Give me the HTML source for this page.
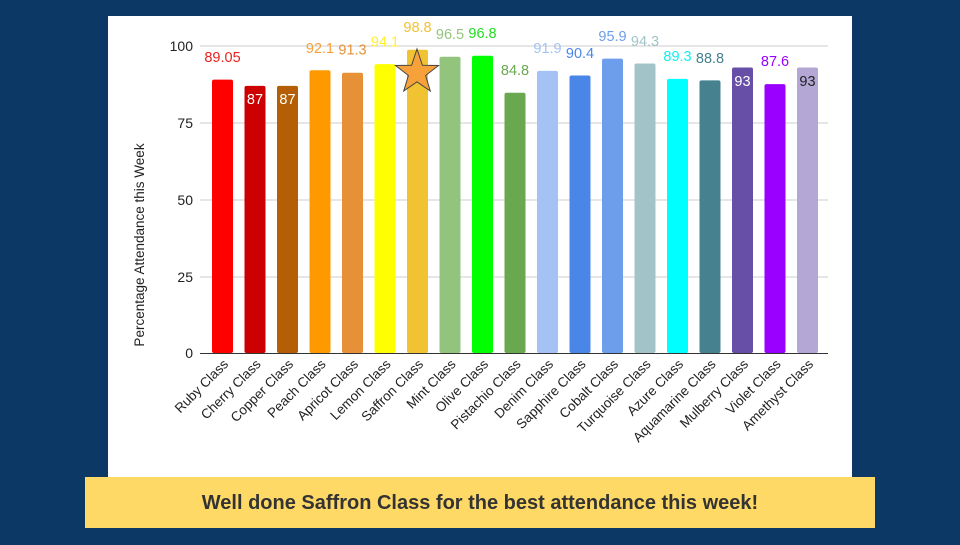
<!DOCTYPE html>
<html><head><style>
body{margin:0;width:960px;height:540px;background:#0b3864;overflow:hidden;font-family:"Liberation Sans",sans-serif}
</style></head><body>
<svg width="960" height="540" xmlns="http://www.w3.org/2000/svg" font-family="Liberation Sans, sans-serif">
<rect x="0" y="0" width="960" height="540" fill="#0b3864"/>
<rect x="108" y="16" width="744" height="462" fill="#fff"/>
<g stroke="#ccc" stroke-width="1">
<line x1="200" x2="828" y1="46" y2="46"/>
<line x1="200" x2="828" y1="123" y2="123"/>
<line x1="200" x2="828" y1="200" y2="200"/>
<line x1="200" x2="828" y1="277" y2="277"/>
</g>
<g font-size="14" fill="#222" text-anchor="end">
<text x="193" y="51">100</text><text x="193" y="128">75</text><text x="193" y="205">50</text><text x="193" y="282">25</text><text x="193" y="358">0</text>
</g>
<text transform="translate(144,245) rotate(-90)" font-size="13.5" fill="#222" text-anchor="middle">Percentage Attendance this Week</text>
<g>
<rect x="212" y="79.6" width="21" height="273.4" rx="2" fill="#ff0000"/>
<rect x="244.5" y="85.9" width="21" height="267.1" rx="2" fill="#cc0000"/>
<rect x="277" y="85.9" width="21" height="267.1" rx="2" fill="#b45f06"/>
<rect x="309.5" y="70.25" width="21" height="282.75" rx="2" fill="#ff9900"/>
<rect x="342" y="72.7" width="21" height="280.3" rx="2" fill="#e69138"/>
<rect x="374.5" y="64.1" width="21" height="288.9" rx="2" fill="#ffff00"/>
<rect x="407" y="49.7" width="21" height="303.3" rx="2" fill="#f1c232"/>
<rect x="439.5" y="56.7" width="21" height="296.3" rx="2" fill="#93c47d"/>
<rect x="472" y="55.8" width="21" height="297.2" rx="2" fill="#00ff00"/>
<rect x="504.5" y="92.7" width="21" height="260.3" rx="2" fill="#6aa84f"/>
<rect x="537" y="70.9" width="21" height="282.1" rx="2" fill="#a4c2f4"/>
<rect x="569.5" y="75.5" width="21" height="277.5" rx="2" fill="#4a86e8"/>
<rect x="602" y="58.6" width="21" height="294.4" rx="2" fill="#6d9eeb"/>
<rect x="634.5" y="63.5" width="21" height="289.5" rx="2" fill="#a2c4c9"/>
<rect x="667" y="78.9" width="21" height="274.1" rx="2" fill="#00ffff"/>
<rect x="699.5" y="80.4" width="21" height="272.6" rx="2" fill="#45818e"/>
<rect x="732" y="67.5" width="21" height="285.5" rx="2" fill="#674ea7"/>
<rect x="764.5" y="84.1" width="21" height="268.9" rx="2" fill="#9900ff"/>
<rect x="797" y="67.5" width="21" height="285.5" rx="2" fill="#b4a7d6"/>
</g>
<line x1="200" x2="828" y1="353.5" y2="353.5" stroke="#333" stroke-width="1"/>
<g font-size="14.5" text-anchor="middle">
<text x="222.5" y="62" fill="#e8221f">89.05</text>
<text x="255" y="104" fill="#fff">87</text>
<text x="287.5" y="104" fill="#fff">87</text>
<text x="320" y="53" fill="#f6a13a">92.1</text>
<text x="352.5" y="54.5" fill="#e69138">91.3</text>
<text x="385" y="46.5" fill="#ffee33">94.1</text>
<text x="417.5" y="32" fill="#f1c232">98.8</text>
<text x="450" y="39" fill="#93c47d">96.5</text>
<text x="482.5" y="38" fill="#22dd22">96.8</text>
<text x="515" y="75" fill="#6aa84f">84.8</text>
<text x="547.5" y="53" fill="#a4c2f4">91.9</text>
<text x="580" y="58" fill="#4a86e8">90.4</text>
<text x="612.5" y="41" fill="#6d9eeb">95.9</text>
<text x="645" y="46" fill="#a2c4c9">94.3</text>
<text x="677.5" y="61" fill="#11eeee">89.3</text>
<text x="710" y="63" fill="#45818e">88.8</text>
<text x="742.5" y="86" fill="#fff">93</text>
<text x="775" y="66" fill="#9900ff">87.6</text>
<text x="807.5" y="86" fill="#222">93</text>
</g>
<g font-size="13.5" fill="#222" text-anchor="end">
<text transform="translate(229,365) rotate(-45)">Ruby Class</text>
<text transform="translate(261.5,365) rotate(-45)">Cherry Class</text>
<text transform="translate(294,365) rotate(-45)">Copper Class</text>
<text transform="translate(326.5,365) rotate(-45)">Peach Class</text>
<text transform="translate(359,365) rotate(-45)">Apricot Class</text>
<text transform="translate(391.5,365) rotate(-45)">Lemon Class</text>
<text transform="translate(424,365) rotate(-45)">Saffron Class</text>
<text transform="translate(456.5,365) rotate(-45)">Mint Class</text>
<text transform="translate(489,365) rotate(-45)">Olive Class</text>
<text transform="translate(521.5,365) rotate(-45)">Pistachio Class</text>
<text transform="translate(554,365) rotate(-45)">Denim Class</text>
<text transform="translate(586.5,365) rotate(-45)">Sapphire Class</text>
<text transform="translate(619,365) rotate(-45)">Cobalt Class</text>
<text transform="translate(651.5,365) rotate(-45)">Turquoise Class</text>
<text transform="translate(684,365) rotate(-45)">Azure Class</text>
<text transform="translate(716.5,365) rotate(-45)">Aquamarine Class</text>
<text transform="translate(749,365) rotate(-45)">Mulberry Class</text>
<text transform="translate(781.5,365) rotate(-45)">Violet Class</text>
<text transform="translate(814,365) rotate(-45)">Amethyst Class</text>
</g>
<polygon points="417,49 422.4,65.3 438.5,65.5 425.6,75.5 430.3,91 417,81.8 403.7,91 408.4,75.5 395.5,65.5 411.6,65.3" fill="#f6a13a" stroke="#444" stroke-width="1"/>
<rect x="85" y="477" width="790" height="51" fill="#ffd966"/>
<text x="480" y="509" font-size="20" font-weight="bold" fill="#333" text-anchor="middle">Well done Saffron Class for the best attendance this week!</text>
</svg>
</body></html>
